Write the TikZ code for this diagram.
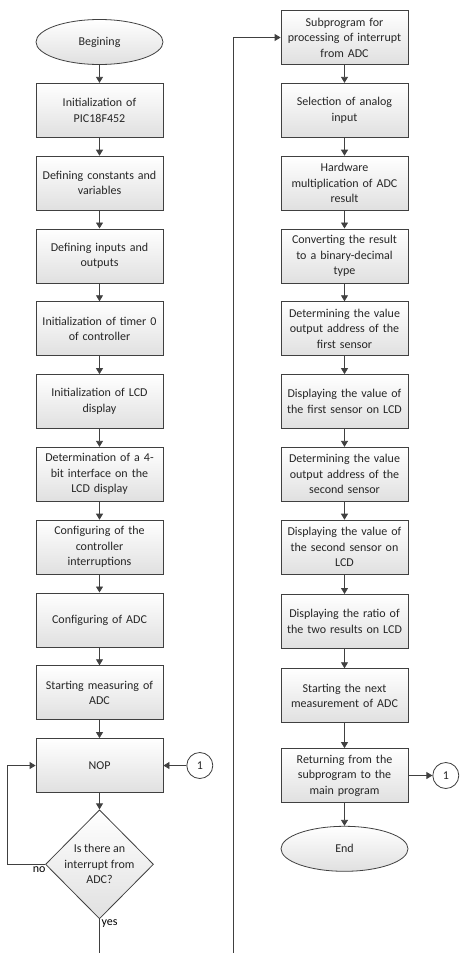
\documentclass[tikz,border=0pt]{standalone}
\usepackage{fontspec}
\setmainfont{Carlito}
\usetikzlibrary{shapes,arrows.meta,positioning,calc}
\definecolor{linegray}{HTML}{404040}
\definecolor{boxgray}{HTML}{E0E0E0}

\begin{document}
\begin{tikzpicture}[
  x=1pt, y=1pt,
  node distance=18pt,
  font=\fontsize{12}{15.5}\selectfont,
  box/.style={rectangle, draw=linegray, line width=0.8pt, top color=white, bottom color=boxgray, minimum width=127pt, minimum height=54pt, text width=125pt, inner xsep=1pt, align=center, text=black!85},
  term/.style={ellipse, draw=linegray, line width=0.8pt, top color=white, bottom color=boxgray, minimum width=127pt, minimum height=45pt, text=black!85},
  decision/.style={diamond, draw=linegray, line width=0.8pt, top color=white, bottom color=boxgray, minimum width=108pt, minimum height=109pt, inner sep=-3pt, align=center, text=black!85},
  conn/.style={circle, draw=linegray, line width=0.8pt, fill=white, minimum size=26pt, inner sep=0pt, text=black!85},
  arrow/.style={-{Triangle[length=6pt,width=7pt]}, draw=linegray, line width=0.8pt}
]
  \path[use as bounding box] (0,0) rectangle (460,-953);
  \clip (0,0) rectangle (460,-953);

  % main program
  \node[term] (begin) at (99.5,-42) {Begining};
  \node[box, below=of begin] (init) {Initialization of\\PIC18F452};
  \node[box, below=of init] (consts) {Defining constants and\\variables};
  \node[box, below=of consts] (io) {Defining inputs and\\outputs};
  \node[box, below=of io] (timer) {Initialization of timer 0\\of controller};
  \node[box, below=of timer] (lcd) {Initialization of LCD\\display};
  \node[box, below=of lcd] (iface) {Determination of a 4-\\bit interface on the\\LCD display};
  \node[box, below=of iface] (intr) {Configuring of the\\controller\\interruptions};
  \node[box, below=of intr] (adc) {Configuring of ADC};
  \node[box, below=of adc] (start) {Starting measuring of\\ADC};
  \node[box, below=of start] (nop) {NOP};
  \node[decision, below=16.5pt of nop] (dec) {Is there an\\interrupt from\\ADC?};
  \node[conn, right=23pt of nop] (con1) {1};

  % interrupt subprogram
  \node[box] (sub) at (344.5,-37.5) {Subprogram for\\processing of interrupt\\from ADC};
  \node[box, below=of sub] (sel) {Selection of analog\\input};
  \node[box, below=of sel] (mult) {Hardware\\multiplication of ADC\\result};
  \node[box, below=of mult] (bcd) {Converting the result\\to a binary-decimal\\type};
  \node[box, below=of bcd] (addr1) {Determining the value\\output address of the\\first sensor};
  \node[box, below=of addr1] (show1) {Displaying the value of\\the first sensor on LCD};
  \node[box, below=of show1] (addr2) {Determining the value\\output address of the\\second sensor};
  \node[box, below=of addr2] (show2) {Displaying the value of\\the second sensor on\\LCD};
  \node[box, below=19.5pt of show2] (ratio) {Displaying the ratio of\\the two results on LCD};
  \node[box, below=19.5pt of ratio] (next) {Starting the next\\measurement of ADC};
  \node[box, below=25pt of next] (ret) {Returning from the\\subprogram to the\\main program};
  \node[term, below=23pt of ret] (finish) {End};
  \node[conn, right=24pt of ret] (con2) {1};

  \foreach \a/\b in {begin/init, init/consts, consts/io, io/timer, timer/lcd, lcd/iface,
                     iface/intr, intr/adc, adc/start, start/nop, nop/dec,
                     sub/sel, sel/mult, mult/bcd, bcd/addr1, addr1/show1, show1/addr2,
                     addr2/show2, show2/ratio, ratio/next, next/ret, ret/finish}
    \draw[arrow] (\a) -- (\b);

  \draw[arrow] (con1) -- (nop);
  \draw[arrow] (ret) -- (con2);

  % waiting loop and jump to the subprogram
  \draw[arrow] (dec.west) -- ++(-38,0) |- (nop.west);
  \node[below left=1pt and -2pt, inner sep=1.5pt] (nolbl) at (dec.west) {no};
  \coordinate (turn) at (233,-1000);
  \draw[arrow] (dec.south) |- (turn) |- (sub.west);
  \node[anchor=west, yshift=-4pt, inner sep=2pt] (yeslbl) at (dec.south) {yes};
\end{tikzpicture}
\end{document}
